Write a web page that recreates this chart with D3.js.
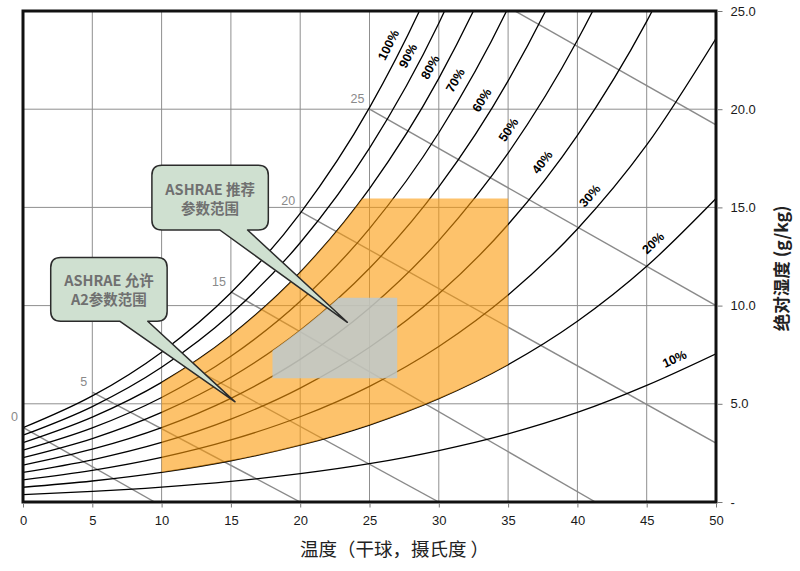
<!DOCTYPE html>
<html>
<head>
<meta charset="utf-8">
<script src="https://cdn.jsdelivr.net/npm/d3@7"></script>
<style>
body { margin: 0; background: #fff; }
text { font-family: "Liberation Sans", Arial, "Noto Sans CJK SC", sans-serif; }
.cjk { font-family: "Noto Sans CJK SC", "Liberation Sans", sans-serif; }
</style>
</head>
<body>
<svg id="chart" width="800" height="571"></svg>
<script>
// dry bulb temperatures where the RH curves were read (deg C)
var temps = [0, 5, 10, 15, 20, 25, 30, 35, 40, 45, 50];
// humidity ratio (g/kg) of each relative humidity curve at those temperatures
var rhNames = ["100%", "90%", "80%", "70%", "60%", "50%", "40%", "30%", "20%", "10%"];
var rh100 = [3.78, 5.40, 7.63, 10.65, 14.70, 20.08, 27.20, 36.57, 48.87, 65.02, 86.29];
var rh90  = [3.40, 4.86, 6.86, 9.57, 13.20, 18.02, 24.38, 32.72, 43.64, 57.92, 76.60];
var rh80  = [3.02, 4.32, 6.09, 8.49, 11.70, 15.96, 21.57, 28.92, 38.49, 50.95, 67.17];
var rh70  = [2.64, 3.77, 5.32, 7.42, 10.22, 13.92, 18.80, 25.16, 33.42, 44.13, 57.99];
var rh60  = [2.26, 3.23, 4.56, 6.35, 8.74, 11.90, 16.04, 21.44, 28.43, 37.45, 49.05];
var rh50  = [1.88, 2.69, 3.79, 5.28, 7.26, 9.88, 13.31, 17.76, 23.51, 30.90, 40.35];
var rh40  = [1.51, 2.15, 3.03, 4.22, 5.80, 7.88, 10.60, 14.13, 18.67, 24.47, 31.86];
var rh30  = [1.13, 1.61, 2.27, 3.16, 4.34, 5.89, 7.92, 10.54, 13.90, 18.18, 23.60];
var rh20  = [0.75, 1.07, 1.51, 2.10, 2.89, 3.92, 5.26, 6.99, 9.20, 12.00, 15.45];
var rh10  = [0.38, 0.54, 0.76, 1.05, 1.44, 1.95, 2.62, 3.47, 4.56, 5.94, 7.55];
// temperature where each RH label sits
var rhLabelT = [27.2, 28.6, 30.2, 32.0, 33.9, 35.8, 38.2, 41.6, 46.1, 47.4];

// wet bulb lines: start on saturation, end on chart edge ("" = label hidden)
var wbNames  = ["0", "5", "", "15", "20", "25", ""];
var wbStartT = [0, 5, 10, 15, 20, 25, 30];
var wbStartW = [3.8, 5.6, 7.7, 10.7, 14.8, 20.0, 27.2];
var wbEndT   = [9.5, 20, 30, 41.3, 50, 50, 50];
var wbEndW   = [0, 0, 0, 0, 3.0, 10.0, 19.2];

// ASHRAE envelopes
var allowedT = [10, 35];      // A2 allowable, between 20% and 80% RH
var allowedTopW = 15.45;
var recommendedT = [18, 27];  // recommended, below 60% RH
var recommendedW = [6.3, 10.4];

var xTicks = [0, 5, 10, 15, 20, 25, 30, 35, 40, 45, 50];
var yTicks = [0, 5, 10, 15, 20, 25];

var callouts = [
  { lines: ["ASHRAE 推荐", "参数范围"], t0: 9.3, t1: 17.7, w0: 13.85, w1: 17.15, b0: 14.2, b1: 16.2, tipT: 23.4, tipW: 9.15 },
  { lines: ["ASHRAE 允许", "A2参数范围"], t0: 2.0, t1: 10.4, w0: 9.2, w1: 12.45, b0: 7.0, b1: 9.0, tipT: 15.3, tipW: 5.1 }
];

var rhSeries = [rh100, rh90, rh80, rh70, rh60, rh50, rh40, rh30, rh20, rh10];

var svg = d3.select("#chart");
var margin = { top: 11, left: 23, right: 84, bottom: 69 };
var W = 800, H = 571;
var x = d3.scaleLinear().domain([0, 50]).range([margin.left, W - margin.right]);
var y = d3.scaleLinear().domain([0, 25]).range([H - margin.bottom, margin.top]);

var defs = svg.append("defs");
defs.append("clipPath").attr("id", "plotClip").append("rect")
  .attr("x", x(0)).attr("y", y(25)).attr("width", x(50) - x(0)).attr("height", y(0) - y(25));

var line = d3.line()
  .x(function (d, i) { return x(temps[i]); })
  .y(function (d) { return y(d); })
  .curve(d3.curveMonotoneX);

function underArea(series) {
  return d3.area()
    .x(function (d, i) { return x(temps[i]); })
    .y0(y(0))
    .y1(function (d) { return y(d); })
    .curve(d3.curveMonotoneX)(series);
}

// grid
var grid = svg.append("g");
grid.selectAll(".gx").data(xTicks).enter().append("line")
  .attr("x1", function (d) { return x(d); }).attr("x2", function (d) { return x(d); })
  .attr("y1", y(0)).attr("y2", y(25))
  .attr("stroke", "#8f8f8f").attr("stroke-width", 1);
grid.selectAll(".gy").data(yTicks).enter().append("line")
  .attr("x1", x(0)).attr("x2", x(50))
  .attr("y1", function (d) { return y(d); }).attr("y2", function (d) { return y(d); })
  .attr("stroke", "#8f8f8f").attr("stroke-width", 1);

var plot = svg.append("g").attr("clip-path", "url(#plotClip)");

// wet bulb lines
plot.selectAll(".wb").data(wbStartT).enter().append("line")
  .attr("x1", function (d, i) { return x(wbStartT[i]); })
  .attr("y1", function (d, i) { return y(wbStartW[i]); })
  .attr("x2", function (d, i) { return x(wbEndT[i]); })
  .attr("y2", function (d, i) { return y(wbEndW[i]); })
  .attr("stroke", "#8a8a8a").attr("stroke-width", 1.4);

// RH curves
var rhPaths = plot.selectAll(".rh").data(rhSeries).enter().append("path")
  .attr("d", function (d) { return line(d); })
  .attr("fill", "none").attr("stroke", "#000").attr("stroke-width", 1.3);

// allowable envelope (orange)
defs.append("clipPath").attr("id", "allowRect").append("rect")
  .attr("x", x(allowedT[0])).attr("width", x(allowedT[1]) - x(allowedT[0]))
  .attr("y", y(allowedTopW)).attr("height", y(0) - y(allowedTopW));
defs.append("clipPath").attr("id", "under80").append("path").attr("d", underArea(rh80));
var aboveLow = d3.area()
  .x(function (d, i) { return x(temps[i]); })
  .y0(function (d) { return y(d); })
  .y1(y(25))
  .curve(d3.curveMonotoneX);
svg.append("g").attr("clip-path", "url(#allowRect)")
  .append("g").attr("clip-path", "url(#under80)")
  .append("path").attr("d", aboveLow(rh20))
  .attr("fill", "#fb9a08").attr("fill-opacity", 0.6);

// recommended envelope (grey)
defs.append("clipPath").attr("id", "under60").append("path").attr("d", underArea(rh60));
svg.append("g").attr("clip-path", "url(#under60)")
  .append("rect")
  .attr("x", x(recommendedT[0])).attr("width", x(recommendedT[1]) - x(recommendedT[0]))
  .attr("y", y(recommendedW[1])).attr("height", y(recommendedW[0]) - y(recommendedW[1]))
  .attr("fill", "#b9c9d3").attr("fill-opacity", 0.8);

// wet bulb labels
svg.selectAll(".wbl").data(wbNames).enter()
  .append("text")
  .attr("x", function (d, i) { return x(wbStartT[i]) - 5; })
  .attr("y", function (d, i) { return y(wbStartW[i]) - 6; })
  .attr("text-anchor", "end")
  .attr("font-size", 12.5).attr("fill", "#8a8a8a")
  .text(function (d) { return d; });

// RH labels, placed along each curve
rhPaths.each(function (d, i) {
  var node = this, target = x(rhLabelT[i]);
  var lo = 0, hi = node.getTotalLength();
  for (var k = 0; k < 40; k++) {
    var mid = (lo + hi) / 2;
    if (node.getPointAtLength(mid).x < target) lo = mid; else hi = mid;
  }
  var p = node.getPointAtLength(lo);
  var p0 = node.getPointAtLength(lo - 3), p1 = node.getPointAtLength(lo + 3);
  var a = Math.atan2(p1.y - p0.y, p1.x - p0.x);
  var off = 13;
  var cx = p.x + off * Math.sin(a), cy = p.y - off * Math.cos(a);
  svg.append("text")
    .attr("transform", "translate(" + cx + "," + cy + ") rotate(" + (a * 180 / Math.PI) + ")")
    .attr("text-anchor", "middle").attr("dy", "0.35em")
    .attr("font-size", 12.5).attr("font-weight", "bold").attr("fill", "#000")
    .text(rhNames[i]);
});

// frame
svg.append("rect")
  .attr("x", x(0)).attr("y", y(25)).attr("width", x(50) - x(0)).attr("height", y(0) - y(25))
  .attr("fill", "none").attr("stroke", "#111").attr("stroke-width", 3);

// bottom axis
var xAxis = svg.append("g").attr("transform", "translate(0," + (y(0) + 1.5) + ")");
xAxis.call(d3.axisBottom(x).tickValues(d3.range(0, 51, 1)).tickSize(4).tickFormat(""));
xAxis.call(d3.axisBottom(x).tickValues(xTicks).tickSize(4).tickPadding(8));
xAxis.selectAll(".domain").remove();
xAxis.selectAll("line").attr("stroke", "#777");
xAxis.selectAll("text").attr("font-size", 13).attr("fill", "#1a1a1a")
  .attr("font-family", "Liberation Sans, Arial, sans-serif");

// right axis
var yAxis = svg.append("g").attr("transform", "translate(" + (x(50) + 1.5) + ",0)");
yAxis.call(d3.axisRight(y).tickValues(d3.range(0, 26, 1)).tickSize(5).tickFormat(""));
yAxis.call(d3.axisRight(y).tickValues(yTicks).tickSize(5).tickPadding(8)
  .tickFormat(function (d) { return d === 0 ? "-" : d.toFixed(1); }));
yAxis.selectAll(".domain").remove();
yAxis.selectAll("line").attr("stroke", "#777");
yAxis.selectAll("text").attr("font-size", 13).attr("fill", "#1a1a1a")
  .attr("font-family", "Liberation Sans, Arial, sans-serif");

// axis titles
svg.append("text").attr("class", "cjk")
  .attr("x", (x(0) + x(50)) / 2 + 25).attr("y", H - 15)
  .attr("text-anchor", "middle").attr("font-size", 18.5).attr("fill", "#222")
  .text("温度（干球，摄氏度 ）");
svg.append("text").attr("class", "cjk")
  .attr("transform", "translate(" + (W - 12) + "," + (y(11.9)) + ") rotate(-90)")
  .attr("text-anchor", "middle").attr("font-size", 17.5).attr("font-weight", "bold").attr("fill", "#222")
  .text("绝对湿度 (g/kg)");

// callouts
callouts.forEach(function (c) {
  var x0 = x(c.t0), x1 = x(c.t1), y0 = y(c.w1), y1 = y(c.w0), r = 10;
  var bx0 = x(c.b0), bx1 = x(c.b1), tx = x(c.tipT), ty = y(c.tipW);
  var d = "M" + (x0 + r) + "," + y0 + "H" + (x1 - r) + "Q" + x1 + "," + y0 + " " + x1 + "," + (y0 + r) +
    "V" + (y1 - r) + "Q" + x1 + "," + y1 + " " + (x1 - r) + "," + y1 +
    "H" + bx1 + "L" + tx + "," + ty + "L" + bx0 + "," + y1 +
    "H" + (x0 + r) + "Q" + x0 + "," + y1 + " " + x0 + "," + (y1 - r) +
    "V" + (y0 + r) + "Q" + x0 + "," + y0 + " " + (x0 + r) + "," + y0 + "Z";
  svg.append("path").attr("d", d)
    .attr("fill", "#cfe0d0").attr("stroke", "#2b2b2b").attr("stroke-width", 1.5)
    .attr("stroke-linejoin", "round");
  var cx = (x0 + x1) / 2, cy = (y0 + y1) / 2;
  c.lines.forEach(function (t, k) {
    svg.append("text").attr("class", "cjk")
      .attr("x", cx).attr("y", cy - 3 + k * 19)
      .attr("text-anchor", "middle").attr("font-size", 14.5).attr("font-weight", "bold")
      .attr("fill", "#707070").text(t);
  });
});
</script>
</body>
</html>
